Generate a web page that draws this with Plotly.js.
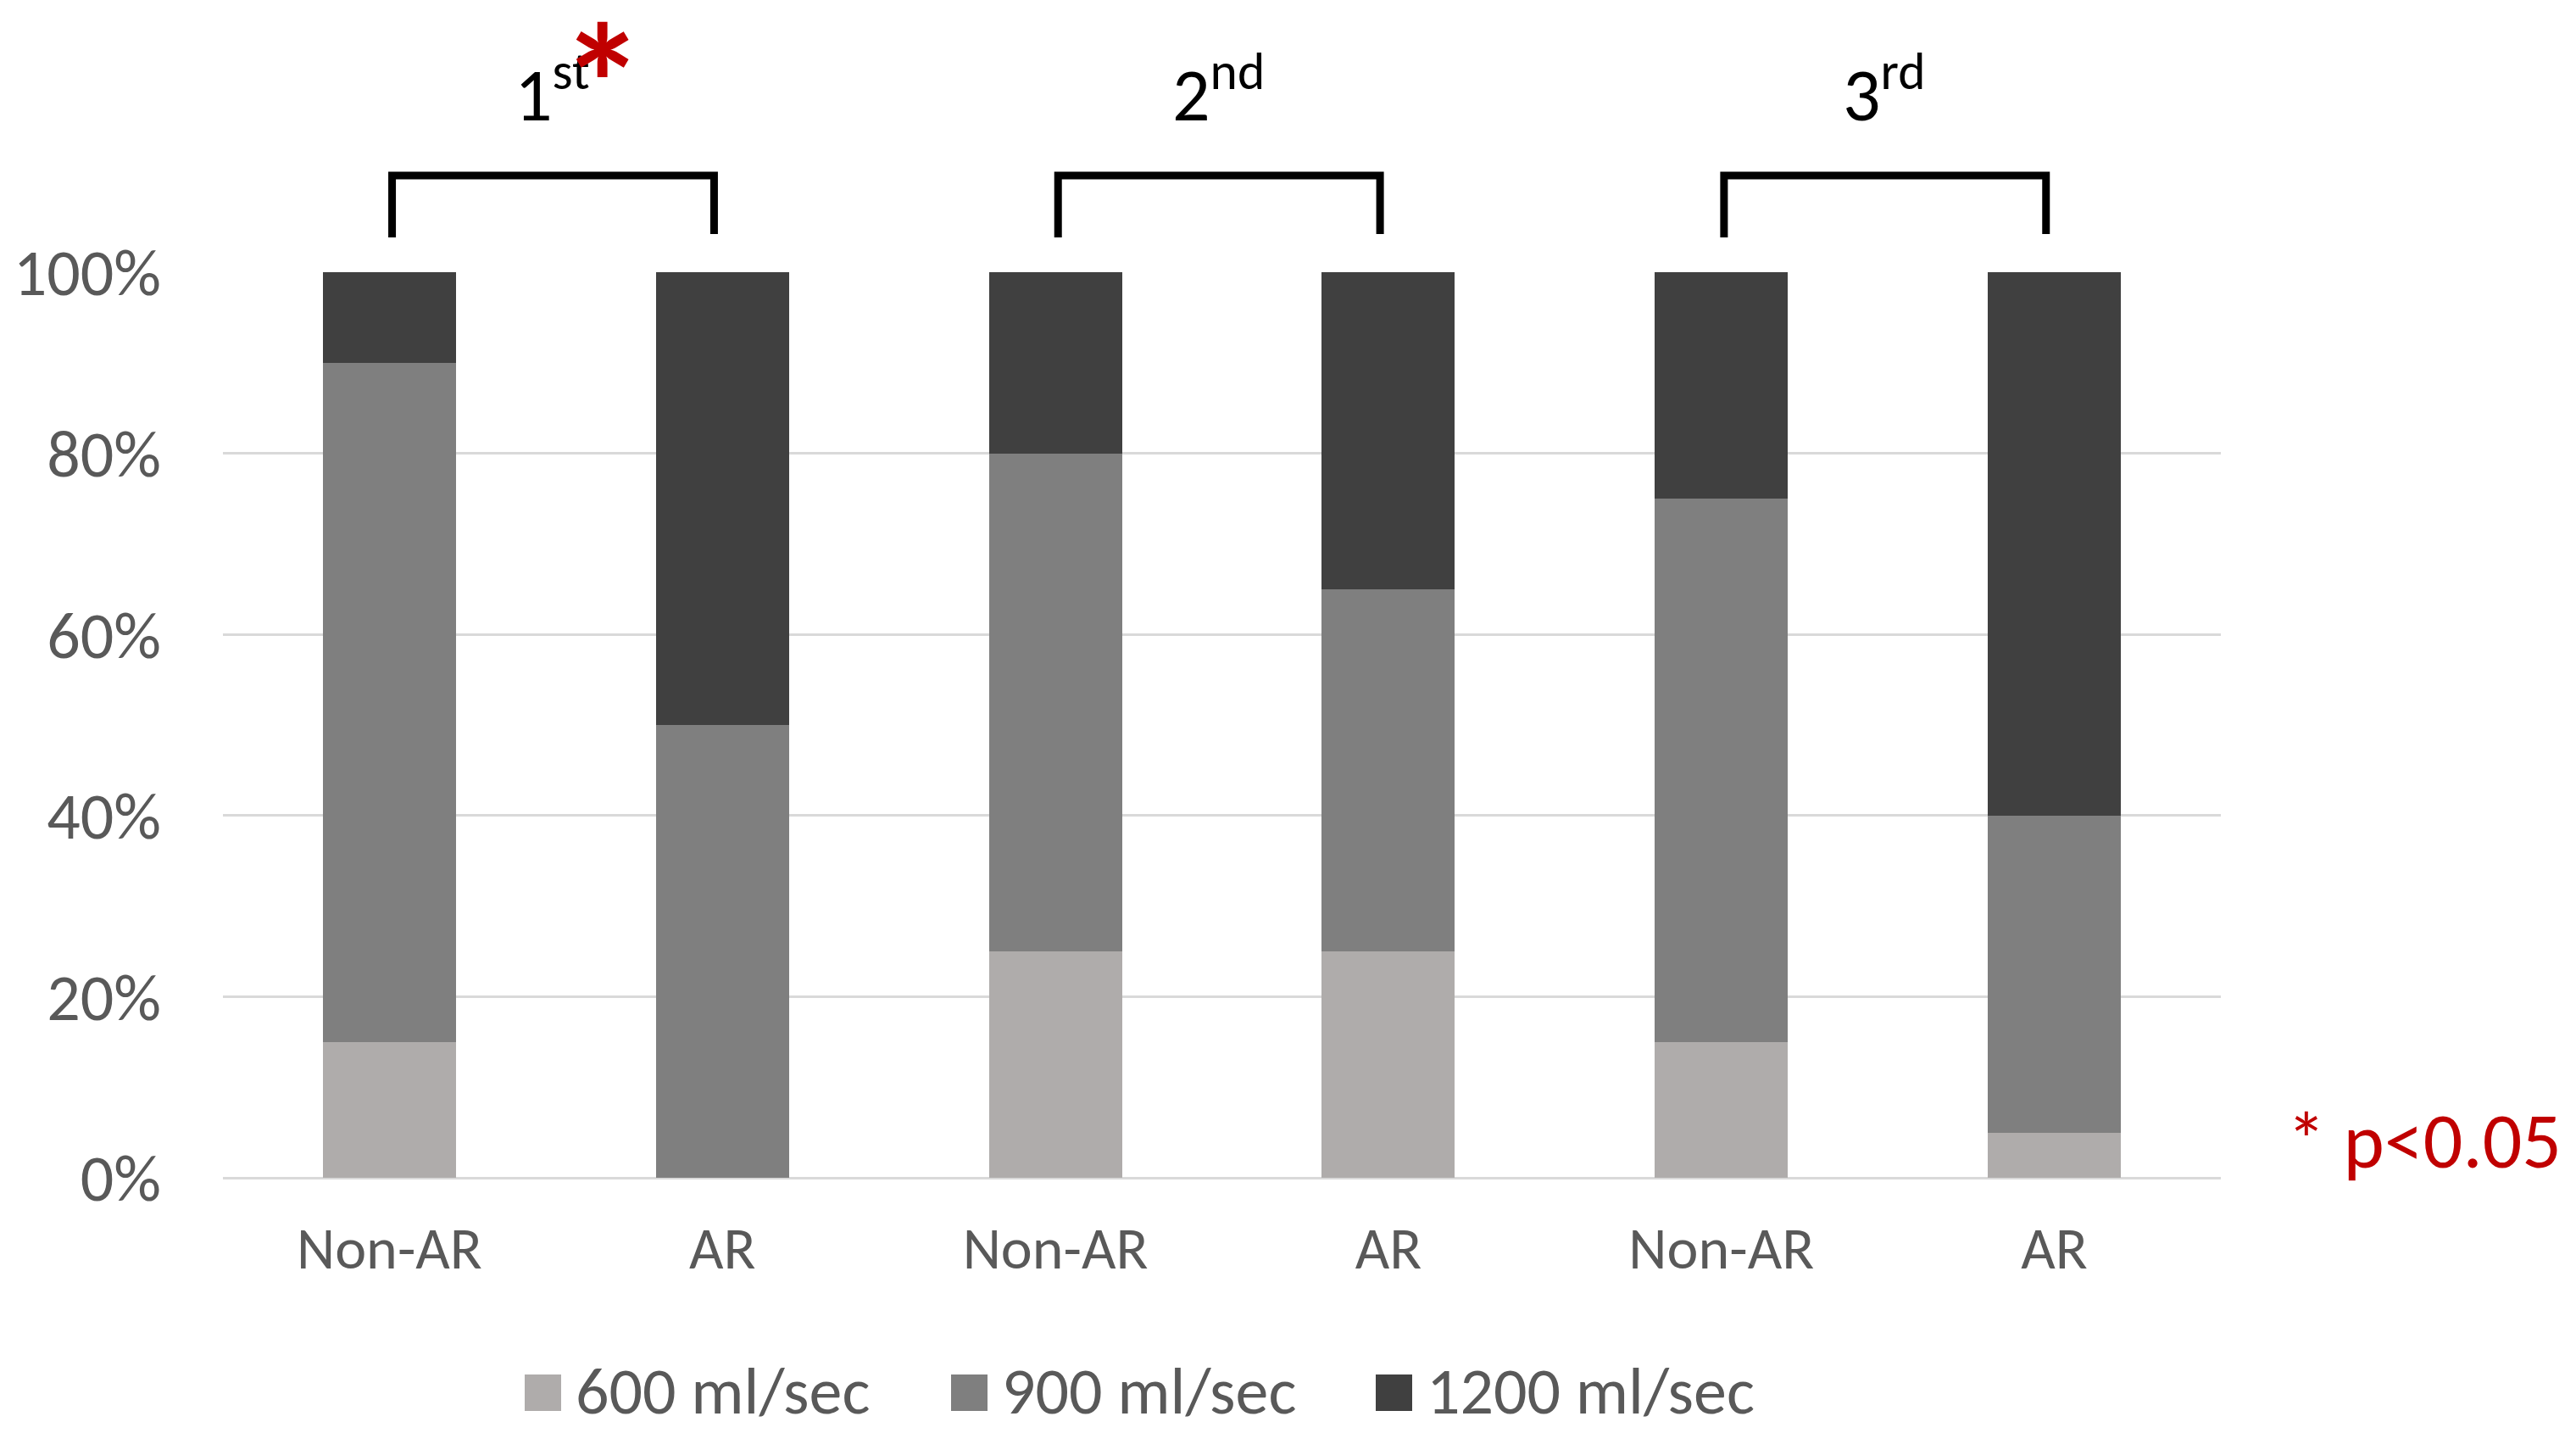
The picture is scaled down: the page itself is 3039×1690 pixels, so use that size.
<!DOCTYPE html>
<html>
<head>
<meta charset="utf-8">
<script src="https://cdn.plot.ly/plotly-3.0.1.min.js"></script>
<style>html,body{margin:0;padding:0;background:#fff}#chart{width:3039px;height:1690px}</style>
</head>
<body>
<div id="chart"></div>
<script>
// ---- data ----
const categories = ["Non-AR", "AR", "Non-AR", "AR", "Non-AR", "AR"];
const groupLabels = ["1<sup>st</sup>", "2<sup>nd</sup>", "3<sup>rd</sup>"];
const seriesNames = ["600 ml/sec", "900 ml/sec", "1200 ml/sec"];
const v600  = [15, 0, 25, 25, 15, 5];
const v900  = [75, 50, 55, 40, 60, 35];
const v1200 = [10, 50, 20, 35, 25, 60];
const yTicks = [0, 20, 40, 60, 80, 100];
const yTickLabels = ["0%", "20%", "40%", "60%", "80%", "100%"];
const noteText = "* p<0.05";

// ---- layout constants ----
const W = 3039, H = 1690;
const ML = 263, MR = 419, MT = 321, MB = 301;
const PW = W - ML - MR, PH = H - MT - MB;
const px = x => (x - ML) / PW;
const py = y => (H - MB - y) / PH;
const FONT = "Carlito, Lato, 'Liberation Sans', sans-serif";
const colors = ["#AFACAB", "#7F7F7F", "#404040"];
const xIdx = categories.map((_, i) => i);

const values = [v600, v900, v1200];
const traces = values.map((v, k) => ({
  type: "bar", x: xIdx, y: v, name: seriesNames[k],
  marker: {color: colors[k], line: {width: 0}},
  width: 0.4, showlegend: false, hoverinfo: "skip"
}));

const shapes = [];
const annotations = [];
// brackets + group labels
groupLabels.forEach((g, i) => {
  const a = 2 * i, b = 2 * i + 1;
  shapes.push({type: "path", xref: "x", yref: "paper",
    path: `M ${a + 0.008} ${py(280)} L ${a + 0.008} ${py(207)} L ${b - 0.025} ${py(207)} L ${b - 0.025} ${py(276)}`,
    line: {color: "#000", width: 9}});
  annotations.push({xref: "x", yref: "paper", x: a + 0.49, y: py(168), yanchor: "bottom",
    text: g, showarrow: false, font: {family: FONT, size: 88, color: "#000"}});
});
// red asterisk on the first group
annotations.push({xref: "x", yref: "paper", x: 0.64, y: py(-22), yanchor: "top",
  text: "<b>*</b>", showarrow: false, font: {family: FONT, size: 200, color: "#C00000"}});
// p-value note
annotations.push({xref: "paper", yref: "paper", x: px(2860), y: py(1345), yanchor: "middle", xanchor: "center",
  text: noteText, showarrow: false, font: {family: FONT, size: 92, color: "#C00000"}});
// manual legend
const legSq = [619, 1122, 1623];
seriesNames.forEach((n, k) => {
  shapes.push({type: "rect", xref: "paper", yref: "paper",
    x0: px(legSq[k]), x1: px(legSq[k] + 43), y0: py(1664), y1: py(1621),
    fillcolor: colors[k], line: {width: 0}});
  annotations.push({xref: "paper", yref: "paper", x: px(legSq[k] + 58), y: py(1640),
    xanchor: "left", yanchor: "middle", text: n, showarrow: false,
    font: {family: FONT, size: 78, color: "#595959"}});
});

const layout = {
  width: W, height: H,
  margin: {l: ML, r: MR, t: MT, b: MB},
  paper_bgcolor: "#fff", plot_bgcolor: "#fff",
  barmode: "stack",
  showlegend: false,
  font: {family: FONT, color: "#595959"},
  xaxis: {
    tickmode: "array", tickvals: xIdx, ticktext: categories,
    range: [-0.5, 5.5], showgrid: false, zeroline: false, showline: false,
    ticks: "", ticklabelstandoff: 36,
    tickfont: {family: FONT, size: 70, color: "#595959"}
  },
  yaxis: {
    range: [0, 100], tickmode: "array", tickvals: yTicks, ticktext: yTickLabels,
    showgrid: true, gridcolor: "#D9D9D9", gridwidth: 3,
    zeroline: true, zerolinecolor: "#D9D9D9", zerolinewidth: 3,
    showline: false, ticks: "", ticklabelstandoff: 72,
    tickfont: {family: FONT, size: 78, color: "#595959"}
  },
  shapes: shapes,
  annotations: annotations
};

Plotly.newPlot("chart", traces, layout, {staticPlot: true, displayModeBar: false});
</script>
</body>
</html>
